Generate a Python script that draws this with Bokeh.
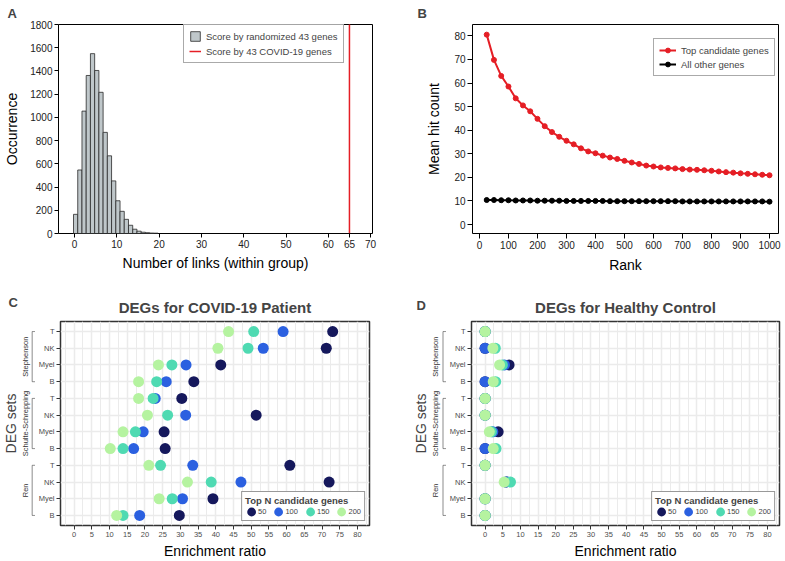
import math
from bokeh.plotting import figure
from bokeh.layouts import column, row
from bokeh.models import (FixedTicker, Label, Legend, LegendItem, PolyAnnotation,
                          ColumnDataSource, Title, Range1d)
from bokeh.embed import file_html
from bokeh.resources import INLINE

FONT = "Liberation Sans"

# ---------------- Panel A data ----------------
link_bins = [0, 1, 2, 3, 4, 5, 6, 7, 8, 9, 10, 11, 12, 13, 14, 15, 16, 17, 18, 19]
link_counts = [165, 547, 1054, 1361, 1549, 1404, 1216, 871, 669, 453, 282, 191, 122, 71,
               37, 20, 11, 7, 4, 3]
covid_links = [65]
a_x_ticks = [0, 10, 20, 30, 40, 50, 60, 65, 70]
a_y_ticks = [0, 200, 400, 600, 800, 1000, 1200, 1400, 1600, 1800]

# ---------------- Panel B data ----------------
rank = [25, 50, 75, 100, 125, 150, 175, 200, 225, 250, 275, 300, 325, 350, 375, 400,
        425, 450, 475, 500, 525, 550, 575, 600, 625, 650, 675, 700, 725, 750, 775, 800,
        825, 850, 875, 900, 925, 950, 975, 1000]
top_mean_hits = [80.5, 69.8, 63.0, 58.5, 53.5, 50.5, 48.0, 44.8, 41.7, 39.2, 37.2, 35.5,
                 34.0, 32.3, 31.0, 30.2, 29.2, 28.4, 27.8, 27.0, 26.3, 25.7, 25.0, 24.6,
                 24.2, 24.0, 23.8, 23.5, 23.3, 23.2, 23.0, 22.8, 22.5, 22.2, 22.0, 21.7,
                 21.5, 21.3, 21.1, 20.9]
other_mean_hits = [10.4, 10.4, 10.3, 10.3, 10.2, 10.2, 10.2, 10.1, 10.1, 10.1, 10.1, 10.0,
                   10.0, 10.0, 10.0, 10.0, 10.0, 9.9, 9.9, 9.9, 9.9, 9.9, 9.9, 9.9, 9.9,
                   9.9, 9.9, 9.8, 9.8, 9.8, 9.8, 9.8, 9.8, 9.8, 9.8, 9.8, 9.8, 9.8, 9.8, 9.7]
b_x_ticks = [0, 100, 200, 300, 400, 500, 600, 700, 800, 900, 1000]
b_y_ticks = [0, 10, 20, 30, 40, 50, 60, 70, 80]

# ---------------- Panels C / D data ----------------
deg_sets = ["Stephenson"] * 4 + ["Schulte-Schrepping"] * 4 + ["Ren"] * 4
cell_types = ["T", "NK", "Myel", "B"] * 3
groups = ["Stephenson", "Schulte-Schrepping", "Ren"]
top_n = ["50", "100", "150", "200"]
n_colors = ["#15185C", "#2B60E0", "#4FDAB2", "#B5F3A0"]

covid_er_50 = [73.0, 71.2, 41.4, 33.8, 30.4, 51.4, 25.4, 25.7, 60.9, 72.0, 39.2, 29.7]
covid_er_100 = [59.0, 53.4, 31.6, 26.0, 22.9, 31.5, 19.5, 16.8, 33.5, 47.1, 30.6, 18.5]
covid_er_150 = [50.7, 49.1, 27.6, 23.3, 22.3, 26.4, 17.3, 13.8, 24.4, 38.7, 27.7, 13.8]
covid_er_200 = [43.6, 40.6, 23.8, 18.2, 18.2, 20.7, 13.8, 10.2, 21.1, 32.0, 24.0, 12.0]

healthy_er_50 = [0.0, 0.0, 6.8, 0.0, 0.0, 0.0, 3.7, 0.0, 0.0, 6.0, 0.0, 0.0]
healthy_er_100 = [0.0, 0.0, 5.5, 0.0, 0.0, 0.0, 2.2, 0.0, 0.0, 6.0, 0.0, 0.0]
healthy_er_150 = [0.0, 2.9, 4.9, 3.0, 0.0, 0.0, 1.8, 3.1, 0.0, 7.2, 0.0, 0.0]
healthy_er_200 = [0.0, 2.2, 4.1, 2.3, 0.0, 0.0, 1.2, 2.3, 0.0, 5.4, 0.0, 0.0]

er_ticks = [0, 5, 10, 15, 20, 25, 30, 35, 40, 45, 50, 55, 60, 65, 70, 75, 80]
er_minor = [-2.5, 2.5, 7.5, 12.5, 17.5, 22.5, 27.5, 32.5, 37.5, 42.5, 47.5, 52.5, 57.5,
            62.5, 67.5, 72.5, 77.5, 82.5]

RED = "#E51E25"


def base_axes(p, tick_size, label_size, tick_color, tick_len):
    for ax in list(p.xaxis) + list(p.yaxis):
        ax.major_label_text_font = FONT
        ax.major_label_text_font_size = tick_size
        ax.major_label_text_color = tick_color
        ax.axis_label_text_font = FONT
        ax.axis_label_text_font_size = label_size
        ax.axis_label_text_font_style = "normal"
        ax.axis_label_text_color = "black"
        ax.minor_tick_line_color = None
        ax.major_tick_in = 0
        ax.major_tick_out = tick_len
        ax.axis_line_color = None
        ax.major_label_standoff = 2


def letter_title(p, text, offset, standoff):
    p.add_layout(Title(text=text, align="left", offset=offset, standoff=standoff,
                       text_font=FONT, text_font_size="13px", text_font_style="bold"),
                 "above")


# ================= Panel A =================
pA = figure(width=390, height=280, x_range=(-3.8, 70.45), y_range=(0, 1800),
            output_backend="svg", toolbar_location=None,
            min_border_left=58, min_border_right=18, min_border_top=23,
            min_border_bottom=47,
            x_axis_label="Number of links (within group)", y_axis_label="Occurrence")
srcA = ColumnDataSource(dict(left=[b - 0.25 for b in link_bins],
                             right=[b + 0.75 for b in link_bins], top=link_counts))
rA1 = pA.quad(left="left", right="right", bottom=0, top="top", source=srcA,
              fill_color="#BFC7CA", line_color="#2A2A2A", line_width=0.8)
rA2 = pA.ray(x=covid_links, y=[0] * len(covid_links), length=0, angle=math.pi / 2,
             line_color=RED, line_width=1.5)
pA.xgrid.visible = False
pA.ygrid.visible = False
pA.outline_line_color = "black"
pA.outline_line_width = 1
base_axes(pA, "10px", "14px", "#222222", 4)
pA.xaxis.ticker = FixedTicker(ticks=a_x_ticks)
pA.yaxis.ticker = FixedTicker(ticks=a_y_ticks)
pA.yaxis.axis_label_standoff = 7
pA.xaxis.axis_label_standoff = 4
legA = Legend(items=[LegendItem(label="Score by randomized 43 genes", renderers=[rA1]),
                     LegendItem(label="Score by 43 COVID-19 genes", renderers=[rA2])],
              location=(125, 170), label_text_font=FONT, label_text_font_size="9.5px",
              glyph_width=12, glyph_height=12, label_standoff=5, spacing=3, padding=5,
              border_line_color="#555555", border_line_width=1, label_height=12)
pA.add_layout(legA)
letter_title(pA, "A", -51, 7)

# ================= Panel B =================
pB = figure(width=395, height=280, x_range=(-24, 1031), y_range=(-3.8, 84.8),
            output_backend="svg", toolbar_location=None,
            min_border_left=82, min_border_right=7, min_border_top=23,
            min_border_bottom=47,
            x_axis_label="Rank", y_axis_label="Mean hit count")
rB1 = pB.line(rank, top_mean_hits, line_color=RED, line_width=2)
rB1m = pB.scatter(rank, top_mean_hits, size=5, fill_color=RED, line_color=RED)
rB2 = pB.line(rank, other_mean_hits, line_color="black", line_width=2)
rB2m = pB.scatter(rank, other_mean_hits, size=5, fill_color="black", line_color="black")
pB.xgrid.visible = False
pB.ygrid.visible = False
pB.outline_line_color = "black"
pB.outline_line_width = 1
base_axes(pB, "10px", "14px", "#222222", 5)
pB.xaxis.ticker = FixedTicker(ticks=b_x_ticks)
pB.yaxis.ticker = FixedTicker(ticks=b_y_ticks)
pB.yaxis.axis_label_standoff = 9
pB.xaxis.axis_label_standoff = 5
legB = Legend(items=[LegendItem(label="Top candidate genes", renderers=[rB1, rB1m]),
                     LegendItem(label="All other genes", renderers=[rB2, rB2m])],
              location=(181, 157), label_text_font=FONT, label_text_font_size="9.5px",
              glyph_width=17, glyph_height=12, label_standoff=5, spacing=2, padding=5,
              border_line_color="#555555", border_line_width=1, label_height=12)
pB.add_layout(legB)
letter_title(pB, "B", -55, 7)

# ================= Panels C / D =================
row_pos = [len(cell_types) - i for i in range(len(cell_types))]
y_labels = {row_pos[i]: cell_types[i] for i in range(len(cell_types))}
CD_H, CD_T, CD_B = 281, 41, 35


def deg_panel(title, series, width, border_left, border_right, yr):
    p = figure(width=width, height=CD_H, x_range=(-3.85, 83.4), y_range=yr,
               output_backend="svg", toolbar_location=None,
               min_border_left=border_left, min_border_right=border_right,
               min_border_top=CD_T, min_border_bottom=CD_B,
               x_axis_label="Enrichment ratio")
    items = []
    for n, vals, col in zip(top_n, series, n_colors):
        src = ColumnDataSource(dict(x=vals, y=row_pos))
        r = p.ellipse(x="x", y="y", width=11, height=11, width_units="screen",
                      height_units="screen", source=src, fill_color=col, line_color=None)
        items.append(LegendItem(label=n, renderers=[r]))
    base_axes(p, "7.5px", "14px", "#4D4D4D", 4)
    p.xaxis.ticker = FixedTicker(ticks=er_ticks, minor_ticks=er_minor)
    p.yaxis.ticker = FixedTicker(ticks=row_pos)
    p.yaxis.major_label_overrides = y_labels
    for ax in list(p.xaxis) + list(p.yaxis):
        ax.major_tick_line_color = "#333333"
    p.xaxis.axis_label_standoff = 3
    p.xgrid.grid_line_color = "#EBEBEB"
    p.xgrid.grid_line_width = 1.5
    p.xgrid.minor_grid_line_color = "#EBEBEB"
    p.xgrid.minor_grid_line_width = 1
    p.ygrid.grid_line_color = "#EBEBEB"
    p.ygrid.grid_line_width = 1.5
    p.outline_line_color = "#333333"
    p.outline_line_width = 1.5
    p.title.text = title
    p.title.align = "center"
    p.title.text_font = FONT
    p.title.text_font_size = "15px"
    p.title.text_font_style = "bold"
    p.title.standoff = 12
    leg = Legend(items=items, orientation="horizontal", location="bottom_right",
                 title="Top N candidate genes", title_text_font=FONT,
                 title_text_font_size="9.5px", title_text_font_style="bold",
                 title_standoff=0, label_text_font=FONT, label_text_font_size="7.5px",
                 glyph_width=12, glyph_height=11, label_standoff=1, label_width=8,
                 spacing=6, padding=3, margin=4, border_line_color="#333333",
                 border_line_width=1.2, label_height=9)
    p.add_layout(leg)
    return p


def side_panel(width, yr, letter, letter_x, letter_standoff, deg_x, group_x, br_out, br_in):
    s = figure(width=width, height=CD_H, x_range=(0, width), y_range=yr,
               x_axis_location=None, y_axis_location=None, output_backend="svg",
               toolbar_location=None, min_border_left=0, min_border_right=0,
               min_border_top=CD_T, min_border_bottom=CD_B)
    s.outline_line_color = None
    s.grid.visible = False
    s.title.text = letter
    s.title.align = "left"
    s.title.offset = letter_x
    s.title.standoff = letter_standoff
    s.title.text_font = FONT
    s.title.text_font_size = "13px"
    s.title.text_font_style = "bold"
    mid_rows = (yr.start + yr.end) / 2
    s.add_layout(Label(x=deg_x, y=mid_rows, text="DEG sets", angle=math.pi / 2,
                       text_font=FONT, text_font_size="14px", text_align="center",
                       text_baseline="middle"))
    for g in groups:
        idx = [i for i, v in enumerate(deg_sets) if v == g]
        top = row_pos[idx[0]]
        bot = row_pos[idx[-1]]
        s.add_layout(PolyAnnotation(xs=[br_in, br_out, br_out, br_in, br_out, br_out],
                                    ys=[top, top, bot, bot, bot, top],
                                    fill_alpha=0, line_color="#333333", line_width=1))
        s.add_layout(Label(x=group_x, y=(top + bot) / 2, text=g, angle=math.pi / 2,
                           text_font=FONT, text_font_size="7.5px", text_color="#333333",
                           text_align="center", text_baseline="middle"))
    return s


yrC = Range1d(0.4, 12.6)
yrD = Range1d(0.4, 12.6)
sC = side_panel(35, yrC, "C", 8, 24, 10, 25, 31.7, 35)
pC = deg_panel("DEGs for COVID-19 Patient",
               [covid_er_50, covid_er_100, covid_er_150, covid_er_200],
               355, 23, 21, yrC)
sD = side_panel(56, yrD, "D", 26, 18, 30, 44.5, 52.5, 56)
pD = deg_panel("DEGs for Healthy Control",
               [healthy_er_50, healthy_er_100, healthy_er_150, healthy_er_200],
               339, 22, 6, yrD)

layout = column(row(pA, pB), row(sC, pC, sD, pD))
open("out.html", "w").write(file_html(layout, INLINE))
